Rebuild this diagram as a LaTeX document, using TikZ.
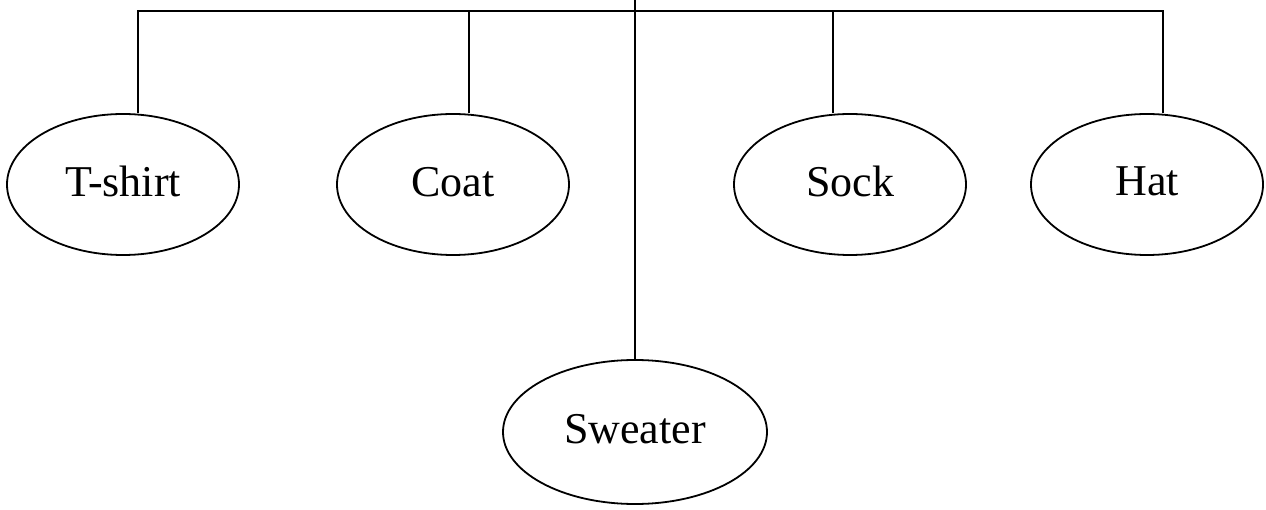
\documentclass[tikz,border=0pt]{standalone}
\usepackage{fontspec}
\setmainfont{Liberation Serif}
\usetikzlibrary{shapes.geometric}
\newcommand{\lifted}[1]{\raisebox{6pt}{#1}}
\begin{document}
\begin{tikzpicture}[x=1pt,y=-1pt,
  line width=1.8pt,
  item/.style={draw, ellipse, inner sep=0pt, minimum width=232pt,
    minimum height=141pt, font=\fontsize{44}{48}\selectfont},
  wire/.style={line width=1.5pt}]
  \useasboundingbox (0,0) rectangle (1266,510);
  \fill[white] (0,0) rectangle (1266,510);

  % clothing items
  \node[item] (tshirt) at (123,184.5) {\lifted{T-shirt}};
  \node[item] (coat)   at (453,184.5) {\lifted{Coat}};
  \node[item] (sock)   at (850,184.5) {\lifted{Sock}};
  \node[item] (hat)    at (1147,184.5) {\lifted{Hat}};
  \node[item, minimum width=264pt, minimum height=144pt] (sweater) at (635,432) {\lifted{Sweater}};

  % branch points on the bar
  \coordinate (top) at (635,0);
  \coordinate (bl) at (138,11);
  \coordinate (bc) at (469,11);
  \coordinate (bm) at (635,11);
  \coordinate (bs) at (833,11);
  \coordinate (br) at (1163,11);

  % horizontal bar and drops
  \draw[wire] (bl |- tshirt.north) -- (bl) -- (br) -- (br |- hat.north);
  \draw[wire] (bc) -- (bc |- coat.north);
  \draw[wire] (bs) -- (bs |- sock.north);
  \draw[wire] (top) -- (sweater.north);
\end{tikzpicture}
\end{document}
